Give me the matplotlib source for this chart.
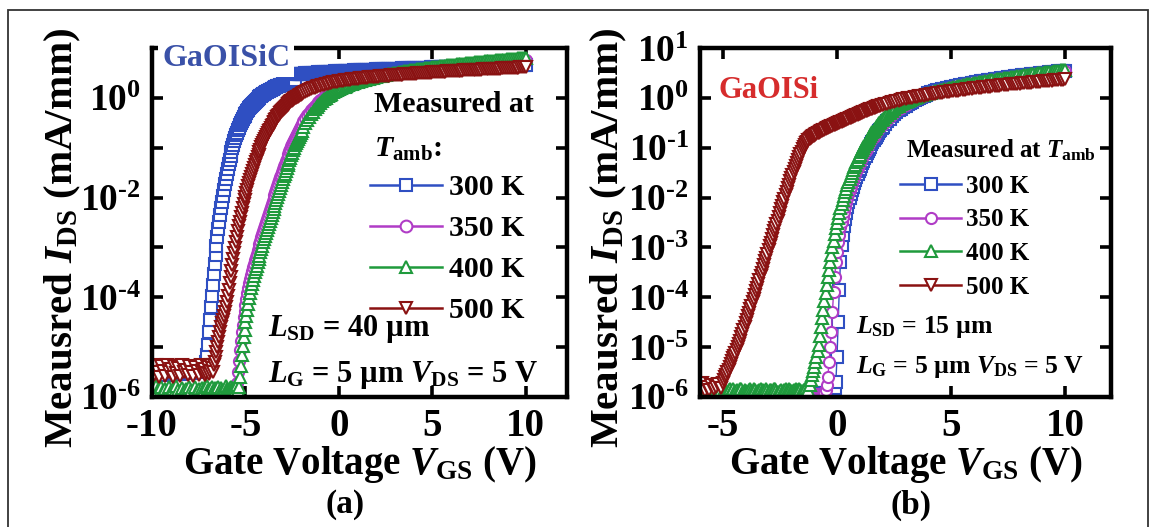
import numpy as np
import matplotlib
matplotlib.use("Agg")
import matplotlib.pyplot as plt
from matplotlib.lines import Line2D
from matplotlib.patches import Rectangle
from matplotlib.ticker import FixedLocator, NullLocator, FuncFormatter

plt.rcParams.update({
    "font.family": ["Liberation Serif", "DejaVu Serif"],
    "font.weight": "bold",
    "axes.labelweight": "bold",
    "mathtext.fontset": "custom",
    "mathtext.rm": "Liberation Serif:bold",
    "mathtext.it": "Liberation Serif:italic:bold",
    "mathtext.bf": "Liberation Serif:bold",
    "axes.unicode_minus": False,
})

# ---------------------------------------------------------------- data
# Gate-voltage sweeps (V): 0.1 V steps, 0.05 V through the turn-on region
vgs_a = np.round(np.concatenate([np.arange(-10.0, -7.25, 0.1),
                                 np.arange(-7.25, -1.99, 0.05),
                                 np.arange(-1.9, 10.05, 0.1)]), 2)
vgs_b = np.round(np.concatenate([np.arange(-6.0, -5.05, 0.1),
                                 np.arange(-5.0, 2.01, 0.05),
                                 np.arange(2.1, 10.05, 0.1)]), 2)

temps = ["300 K", "350 K", "400 K", "500 K"]

# (a) GaOISiC, L_SD = 40 um : log10 of I_DS in mA/mm
log_ids_a_300 = [
    -5.42, -5.5, -5.38, -5.47, -5.52, -5.4, -5.46, -5.55, -5.41, -5.48,
    -5.44, -5.51, -5.39, -5.47, -5.43, -5.53, -5.4, -5.49, -5.45, -5.5,
    -5.42, -5.47, -5.52, -5.4, -5.46, -5.5, -5.43, -5.48,
    # -7.25 .. -2.0
    -5.45, -5.42, -5.38, -5.3, -5.15, -4.95, -4.7, -4.45, -4.2, -3.97,
    -3.75, -3.54, -3.34, -3.15, -2.97, -2.8, -2.64, -2.49, -2.35, -2.21,
    -2.08, -1.96, -1.84, -1.73, -1.62, -1.52, -1.42, -1.33, -1.24, -1.16,
    -1.08, -1.01, -0.94, -0.87, -0.81, -0.75, -0.7, -0.65, -0.6, -0.55,
    -0.51, -0.47, -0.43, -0.39, -0.36, -0.33, -0.3, -0.27, -0.24, -0.21,
    -0.19, -0.16, -0.14, -0.12, -0.1, -0.08, -0.06, -0.04, -0.02, 0.0,
    0.01, 0.03, 0.04, 0.06, 0.07, 0.08, 0.1, 0.11, 0.12, 0.13,
    0.14, 0.15, 0.16, 0.17, 0.18, 0.19, 0.2, 0.21, 0.22, 0.23,
    0.23, 0.24, 0.25, 0.26, 0.26, 0.27, 0.28, 0.28, 0.29, 0.3,
    0.3, 0.31, 0.31, 0.32, 0.33, 0.33, 0.34, 0.34, 0.35, 0.47,
    0.47, 0.47, 0.48, 0.48, 0.48, 0.48,
    # -1.9 .. 10.0
    0.48, 0.49, 0.49, 0.49, 0.5, 0.5, 0.5, 0.5, 0.51, 0.51,
    0.51, 0.51, 0.52, 0.52, 0.52, 0.52, 0.52, 0.53, 0.53, 0.53,
    0.53, 0.53, 0.54, 0.54, 0.54, 0.54, 0.54, 0.55, 0.55, 0.55,
    0.55, 0.55, 0.55, 0.56, 0.56, 0.56, 0.56, 0.56, 0.56, 0.57,
    0.57, 0.57, 0.57, 0.57, 0.57, 0.57, 0.58, 0.58, 0.58, 0.58,
    0.58, 0.58, 0.58, 0.59, 0.59, 0.59, 0.59, 0.59, 0.59, 0.59,
    0.6, 0.6, 0.6, 0.6, 0.6, 0.6, 0.6, 0.6, 0.61, 0.61,
    0.61, 0.61, 0.61, 0.61, 0.61, 0.61, 0.62, 0.62, 0.62, 0.62,
    0.62, 0.62, 0.62, 0.62, 0.62, 0.63, 0.63, 0.63, 0.63, 0.63,
    0.63, 0.63, 0.63, 0.63, 0.64, 0.64, 0.64, 0.64, 0.64, 0.64,
    0.64, 0.64, 0.64, 0.65, 0.65, 0.65, 0.65, 0.65, 0.65, 0.65,
    0.65, 0.65, 0.66, 0.66, 0.66, 0.66, 0.66, 0.66, 0.66, 0.66,
]
log_ids_a_350 = [
    -5.9, -5.95, -5.88, -5.93, -5.9, -5.96, -5.89, -5.92, -5.94, -5.9,
    -5.93, -5.88, -5.95, -5.91, -5.9, -5.94, -5.89, -5.92, -5.95, -5.9,
    -5.91, -5.94, -5.89, -5.93, -5.9, -5.95, -5.92, -5.88,
    # -7.25 .. -2.0
    -5.94, -5.91, -5.9, -5.93, -5.95, -5.9, -5.92, -5.93, -5.89, -5.95,
    -5.92, -5.94, -5.9, -5.91, -5.94, -5.93, -5.89, -5.92, -5.9, -5.95,
    -5.91, -5.93, -5.88, -5.94, -5.9, -5.92, -5.95, -5.91, -5.89, -5.93,
    -5.9, -5.94, -5.92, -5.93, -5.9, -5.85, -5.72, -5.5, -5.28, -5.05,
    -4.87, -4.7, -4.55, -4.4, -4.27, -4.15, -4.03, -3.92, -3.82, -3.72,
    -3.63, -3.55, -3.47, -3.4, -3.33, -3.26, -3.19, -3.13, -3.06, -3.0,
    -2.93, -2.87, -2.8, -2.74, -2.67, -2.61, -2.55, -2.49, -2.42, -2.36,
    -2.3, -2.24, -2.18, -2.12, -2.06, -2.0, -1.94, -1.88, -1.82, -1.76,
    -1.7, -1.65, -1.59, -1.54, -1.48, -1.43, -1.37, -1.32, -1.27, -1.22,
    -1.17, -1.12, -1.07, -1.02, -0.97, -0.93, -0.88, -0.84, -0.8, -0.76,
    -0.72, -0.68, -0.64, -0.6, -0.56, -0.53,
    # -1.9 .. 10.0
    -0.47, -0.41, -0.35, -0.3, -0.25, -0.2, -0.16, -0.12, -0.08, -0.05,
    -0.02, 0.01, 0.04, 0.06, 0.09, 0.11, 0.13, 0.15, 0.17, 0.19,
    0.2, 0.22, 0.23, 0.25, 0.26, 0.27, 0.29, 0.3, 0.31, 0.32,
    0.33, 0.34, 0.35, 0.36, 0.37, 0.38, 0.39, 0.4, 0.41, 0.42,
    0.42, 0.43, 0.44, 0.45, 0.45, 0.46, 0.47, 0.47, 0.48, 0.49,
    0.49, 0.5, 0.51, 0.51, 0.52, 0.52, 0.53, 0.53, 0.54, 0.54,
    0.55, 0.55, 0.56, 0.56, 0.57, 0.57, 0.58, 0.58, 0.59, 0.59,
    0.6, 0.6, 0.6, 0.61, 0.61, 0.62, 0.62, 0.62, 0.63, 0.63,
    0.64, 0.64, 0.64, 0.65, 0.65, 0.65, 0.66, 0.66, 0.66, 0.67,
    0.67, 0.67, 0.68, 0.68, 0.68, 0.69, 0.69, 0.69, 0.7, 0.7,
    0.7, 0.7, 0.71, 0.71, 0.71, 0.72, 0.72, 0.72, 0.72, 0.73,
    0.73, 0.73, 0.73, 0.74, 0.74, 0.74, 0.74, 0.75, 0.75, 0.75,
]
log_ids_a_400 = [
    -5.82, -5.9, -5.78, -5.86, -5.93, -5.8, -5.88, -5.84, -5.95, -5.79,
    -5.87, -5.83, -5.91, -5.78, -5.85, -5.92, -5.81, -5.88, -5.84, -5.9,
    -5.8, -5.86, -5.93, -5.79, -5.87, -5.83, -5.9, -5.82,
    # -7.25 .. -2.0
    -5.88, -5.85, -5.8, -5.9, -5.78, -5.86, -5.91, -5.83, -5.84, -5.8,
    -5.87, -5.89, -5.82, -5.86, -5.93, -5.82, -5.8, -5.94, -5.88, -5.81,
    -5.85, -5.87, -5.9, -5.83, -5.78, -5.83, -5.86, -5.9, -5.82, -5.79,
    -5.85, -5.88, -5.81, -5.84, -5.87, -5.8, -5.76, -5.86, -5.8, -5.6,
    -5.38, -5.15, -4.97, -4.8, -4.65, -4.5, -4.37, -4.25, -4.13, -4.02,
    -3.92, -3.82, -3.73, -3.65, -3.57, -3.5, -3.43, -3.37, -3.3, -3.24,
    -3.17, -3.1, -3.03, -2.97, -2.9, -2.84, -2.78, -2.72, -2.65, -2.59,
    -2.53, -2.47, -2.4, -2.34, -2.28, -2.22, -2.16, -2.1, -2.04, -1.98,
    -1.92, -1.86, -1.8, -1.74, -1.68, -1.63, -1.57, -1.52, -1.46, -1.41,
    -1.35, -1.3, -1.25, -1.2, -1.15, -1.1, -1.05, -1.0, -0.95, -0.91,
    -0.86, -0.82, -0.78, -0.74, -0.7, -0.66,
    # -1.9 .. 10.0
    -0.58, -0.51, -0.45, -0.39, -0.33, -0.28, -0.23, -0.18, -0.14, -0.1,
    -0.06, -0.03, 0.0, 0.03, 0.06, 0.08, 0.11, 0.13, 0.15, 0.17,
    0.19, 0.21, 0.22, 0.24, 0.25, 0.27, 0.28, 0.29, 0.31, 0.32,
    0.33, 0.34, 0.35, 0.36, 0.37, 0.38, 0.39, 0.4, 0.41, 0.42,
    0.43, 0.44, 0.44, 0.45, 0.46, 0.47, 0.47, 0.48, 0.49, 0.5,
    0.5, 0.51, 0.52, 0.52, 0.53, 0.53, 0.54, 0.55, 0.55, 0.56,
    0.56, 0.57, 0.57, 0.58, 0.58, 0.59, 0.59, 0.6, 0.6, 0.61,
    0.61, 0.62, 0.62, 0.63, 0.63, 0.64, 0.64, 0.65, 0.65, 0.66,
    0.66, 0.66, 0.67, 0.67, 0.68, 0.68, 0.68, 0.69, 0.69, 0.7,
    0.7, 0.7, 0.71, 0.71, 0.72, 0.72, 0.72, 0.73, 0.73, 0.73,
    0.74, 0.74, 0.74, 0.75, 0.75, 0.75, 0.76, 0.76, 0.76, 0.77,
    0.77, 0.77, 0.78, 0.78, 0.78, 0.79, 0.79, 0.79, 0.8, 0.8,
]
log_ids_a_500 = [
    -5.4, -5.55, -5.35, -5.5, -5.6, -5.38, -5.47, -5.58, -5.36, -5.5,
    -5.44, -5.6, -5.37, -5.52, -5.42, -5.57, -5.35, -5.49, -5.45, -5.56,
    -5.38, -5.5, -5.58, -5.4, -5.47, -5.55, -5.36, -5.5,
    # -7.25 .. -2.0
    -5.46, -5.43, -5.55, -5.52, -5.38, -5.4, -5.53, -5.48, -5.36, -5.42,
    -5.5, -5.35, -5.3, -5.2, -5.1, -5.0, -4.9, -4.8, -4.7, -4.6,
    -4.52, -4.45, -4.38, -4.3, -4.2, -4.1, -3.97, -3.85, -3.72, -3.6,
    -3.47, -3.35, -3.23, -3.12, -3.01, -2.9, -2.79, -2.68, -2.58, -2.48,
    -2.39, -2.3, -2.21, -2.13, -2.05, -1.98, -1.91, -1.84, -1.77, -1.71,
    -1.64, -1.58, -1.52, -1.46, -1.4, -1.35, -1.29, -1.24, -1.19, -1.14,
    -1.09, -1.04, -0.99, -0.95, -0.91, -0.87, -0.83, -0.79, -0.75, -0.71,
    -0.67, -0.64, -0.6, -0.57, -0.54, -0.51, -0.48, -0.45, -0.42, -0.39,
    -0.36, -0.34, -0.31, -0.29, -0.26, -0.24, -0.22, -0.2, -0.18, -0.16,
    -0.14, -0.12, -0.1, -0.09, -0.07, -0.06, -0.04, -0.03, -0.01, 0.0,
    0.01, 0.02, 0.03, 0.05, 0.06, 0.07,
    # -1.9 .. 10.0
    0.09, 0.11, 0.13, 0.15, 0.17, 0.19, 0.2, 0.22, 0.23, 0.24,
    0.25, 0.26, 0.27, 0.28, 0.29, 0.3, 0.31, 0.32, 0.32, 0.33,
    0.34, 0.34, 0.35, 0.35, 0.36, 0.36, 0.37, 0.37, 0.38, 0.38,
    0.39, 0.39, 0.39, 0.4, 0.4, 0.41, 0.41, 0.41, 0.42, 0.42,
    0.42, 0.43, 0.43, 0.43, 0.44, 0.44, 0.44, 0.45, 0.45, 0.45,
    0.46, 0.46, 0.46, 0.46, 0.47, 0.47, 0.47, 0.48, 0.48, 0.48,
    0.48, 0.49, 0.49, 0.49, 0.49, 0.5, 0.5, 0.5, 0.5, 0.51,
    0.51, 0.51, 0.51, 0.52, 0.52, 0.52, 0.52, 0.53, 0.53, 0.53,
    0.53, 0.53, 0.54, 0.54, 0.54, 0.54, 0.55, 0.55, 0.55, 0.55,
    0.55, 0.56, 0.56, 0.56, 0.56, 0.56, 0.57, 0.57, 0.57, 0.57,
    0.57, 0.58, 0.58, 0.58, 0.58, 0.58, 0.59, 0.59, 0.59, 0.59,
    0.59, 0.6, 0.6, 0.6, 0.6, 0.6, 0.61, 0.61, 0.61, 0.61,
]

# (b) GaOISi, L_SD = 15 um : log10 of I_DS in mA/mm
log_ids_b_300 = [
    -5.93, -5.95, -5.92, -5.94, -5.96, -5.93, -5.95, -5.92, -5.94, -5.93,
    # -5.0 .. 2.0
    -5.95, -5.92, -5.94, -5.93, -5.96, -5.92, -5.94, -5.95, -5.93, -5.94,
    -5.92, -5.95, -5.93, -5.94, -5.92, -5.96, -5.93, -5.94, -5.95, -5.92,
    -5.94, -5.93, -5.95, -5.92, -5.94, -5.96, -5.93, -5.92, -5.95, -5.94,
    -5.93, -5.95, -5.92, -5.94, -5.93, -5.96, -5.94, -5.92, -5.95, -5.93,
    -5.94, -5.92, -5.95, -5.93, -5.94, -5.96, -5.93, -5.95, -5.92, -5.94,
    -5.93, -5.95, -5.92, -5.94, -5.96, -5.93, -5.95, -5.92, -5.94, -5.93,
    -5.95, -5.92, -5.94, -5.93, -5.96, -5.92, -5.94, -5.95, -5.93, -5.94,
    -5.92, -5.95, -5.93, -5.94, -5.92, -5.96, -5.93, -5.94, -5.95, -5.92,
    -5.94, -5.93, -5.95, -5.92, -5.94, -5.96, -5.93, -5.92, -5.95, -5.94,
    -5.93, -5.95, -5.92, -5.94, -5.93, -5.96, -5.92, -5.9, -5.82, -5.7,
    -5.2, -4.5, -3.85, -3.3, -2.95, -2.75, -2.58, -2.43, -2.3, -2.18,
    -2.08, -2.0, -1.92, -1.85, -1.78, -1.71, -1.65, -1.59, -1.53, -1.47,
    -1.42, -1.36, -1.31, -1.26, -1.21, -1.16, -1.11, -1.07, -1.02, -0.98,
    -0.93, -0.89, -0.85, -0.81, -0.78, -0.74, -0.71, -0.67, -0.64, -0.61,
    -0.58,
    # 2.1 .. 10.0
    -0.52, -0.47, -0.42, -0.37, -0.33, -0.29, -0.25, -0.22, -0.19, -0.16,
    -0.13, -0.1, -0.08, -0.05, -0.03, -0.01, 0.01, 0.03, 0.05, 0.1,
    0.11, 0.12, 0.14, 0.15, 0.16, 0.17, 0.18, 0.19, 0.2, 0.21,
    0.22, 0.23, 0.24, 0.25, 0.26, 0.27, 0.28, 0.28, 0.29, 0.3,
    0.31, 0.32, 0.33, 0.33, 0.34, 0.35, 0.36, 0.36, 0.37, 0.38,
    0.38, 0.39, 0.4, 0.4, 0.41, 0.42, 0.42, 0.43, 0.43, 0.44,
    0.45, 0.45, 0.46, 0.46, 0.47, 0.47, 0.48, 0.48, 0.49, 0.49,
    0.5, 0.5, 0.51, 0.51, 0.52, 0.52, 0.53, 0.53, 0.54, 0.54,
]
log_ids_b_350 = [
    -5.95, -5.93, -5.96, -5.94, -5.95, -5.93, -5.96, -5.94, -5.95, -5.93,
    # -5.0 .. 2.0
    -5.94, -5.96, -5.93, -5.95, -5.94, -5.96, -5.93, -5.95, -5.94, -5.93,
    -5.96, -5.94, -5.95, -5.93, -5.94, -5.96, -5.95, -5.93, -5.94, -5.96,
    -5.93, -5.95, -5.94, -5.96, -5.93, -5.95, -5.94, -5.93, -5.96, -5.95,
    -5.94, -5.93, -5.96, -5.95, -5.94, -5.93, -5.96, -5.94, -5.95, -5.93,
    -5.96, -5.94, -5.95, -5.93, -5.94, -5.95, -5.93, -5.96, -5.94, -5.95,
    -5.93, -5.96, -5.94, -5.95, -5.93, -5.94, -5.96, -5.93, -5.95, -5.94,
    -5.95, -5.93, -5.94, -5.96, -5.95, -5.93, -5.94, -5.96, -5.93, -5.95,
    -5.94, -5.96, -5.93, -5.95, -5.94, -5.93, -5.96, -5.94, -5.95, -5.93,
    -5.96, -5.94, -5.95, -5.93, -5.94, -5.95, -5.93, -5.96, -5.94, -5.9,
    -5.85, -5.75, -5.6, -5.3, -5.0, -4.7, -4.3, -3.9, -3.6, -3.3,
    -3.1, -2.9, -2.75, -2.6, -2.48, -2.38, -2.28, -2.18, -2.09, -2.0,
    -1.92, -1.85, -1.78, -1.71, -1.64, -1.58, -1.52, -1.46, -1.4, -1.35,
    -1.3, -1.25, -1.2, -1.15, -1.1, -1.06, -1.02, -0.97, -0.93, -0.89,
    -0.85, -0.81, -0.78, -0.74, -0.71, -0.67, -0.64, -0.61, -0.58, -0.55,
    -0.52,
    # 2.1 .. 10.0
    -0.49, -0.44, -0.39, -0.35, -0.31, -0.27, -0.23, -0.2, -0.17, -0.14,
    -0.11, -0.09, -0.06, -0.04, -0.02, 0.0, 0.02, 0.04, 0.05, 0.09,
    0.1, 0.11, 0.13, 0.14, 0.15, 0.16, 0.17, 0.18, 0.19, 0.2,
    0.21, 0.22, 0.23, 0.24, 0.25, 0.26, 0.27, 0.27, 0.28, 0.29,
    0.3, 0.31, 0.32, 0.32, 0.33, 0.34, 0.35, 0.35, 0.36, 0.37,
    0.37, 0.38, 0.39, 0.39, 0.4, 0.41, 0.41, 0.42, 0.42, 0.43,
    0.44, 0.44, 0.45, 0.45, 0.46, 0.46, 0.47, 0.47, 0.48, 0.48,
    0.49, 0.49, 0.5, 0.5, 0.51, 0.51, 0.52, 0.52, 0.53, 0.53,
]
log_ids_b_400 = [
    -5.86, -5.92, -5.83, -5.9, -5.87, -5.94, -5.84, -5.89, -5.91, -5.85,
    # -5.0 .. 2.0
    -5.9, -5.87, -5.86, -5.92, -5.93, -5.85, -5.84, -5.9, -5.88, -5.83,
    -5.91, -5.87, -5.85, -5.9, -5.89, -5.84, -5.83, -5.92, -5.9, -5.86,
    -5.87, -5.9, -5.92, -5.85, -5.84, -5.88, -5.89, -5.83, -5.86, -5.91,
    -5.93, -5.88, -5.85, -5.84, -5.9, -5.86, -5.88, -5.92, -5.84, -5.87,
    -5.91, -5.85, -5.86, -5.9, -5.89, -5.84, -5.83, -5.88, -5.9, -5.92,
    -5.87, -5.85, -5.92, -5.89, -5.85, -5.83, -5.88, -5.9, -5.84, -5.86,
    -5.9, -5.87, -5.86, -5.91, -5.83, -5.85, -5.89, -5.84, -5.85, -5.88,
    -5.91, -5.86, -5.84, -5.82, -5.88, -5.86, -5.75, -5.66, -5.55, -5.48,
    -5.4, -5.3, -5.2, -5.08, -4.95, -4.78, -4.6, -4.42, -4.25, -4.08,
    -3.92, -3.76, -3.6, -3.45, -3.3, -3.15, -3.0, -2.87, -2.74, -2.62,
    -2.5, -2.4, -2.3, -2.21, -2.12, -2.04, -1.96, -1.89, -1.82, -1.75,
    -1.69, -1.63, -1.57, -1.51, -1.45, -1.39, -1.34, -1.29, -1.24, -1.19,
    -1.14, -1.09, -1.05, -1.0, -0.96, -0.92, -0.88, -0.84, -0.8, -0.76,
    -0.73, -0.69, -0.66, -0.63, -0.6, -0.57, -0.54, -0.51, -0.48, -0.45,
    -0.43,
    # 2.1 .. 10.0
    -0.38, -0.34, -0.3, -0.26, -0.22, -0.19, -0.16, -0.13, -0.1, -0.08,
    -0.06, -0.04, -0.02, 0.0, 0.02, 0.03, 0.05, 0.06, 0.08, 0.09,
    0.1, 0.12, 0.13, 0.14, 0.15, 0.16, 0.17, 0.18, 0.19, 0.2,
    0.21, 0.22, 0.23, 0.24, 0.25, 0.26, 0.27, 0.27, 0.28, 0.29,
    0.3, 0.31, 0.32, 0.32, 0.33, 0.34, 0.35, 0.35, 0.36, 0.37,
    0.38, 0.38, 0.39, 0.4, 0.4, 0.41, 0.42, 0.42, 0.43, 0.44,
    0.44, 0.45, 0.46, 0.46, 0.47, 0.48, 0.48, 0.49, 0.49, 0.5,
    0.51, 0.51, 0.52, 0.52, 0.53, 0.54, 0.54, 0.55, 0.55, 0.56,
]
log_ids_b_500 = [
    -5.85, -5.72, -5.88, -5.8, -5.86, -5.75, -5.84, -5.8, -5.74, -5.82,
    # -5.0 .. 2.0
    -5.72, -5.66, -5.6, -5.55, -5.5, -5.45, -5.4, -5.34, -5.28, -5.22,
    -5.17, -5.11, -5.05, -4.99, -4.93, -4.87, -4.8, -4.73, -4.66, -4.59,
    -4.52, -4.45, -4.38, -4.31, -4.24, -4.17, -4.1, -4.03, -3.96, -3.88,
    -3.81, -3.73, -3.66, -3.58, -3.51, -3.43, -3.36, -3.28, -3.21, -3.13,
    -3.06, -2.98, -2.91, -2.83, -2.76, -2.68, -2.61, -2.53, -2.46, -2.38,
    -2.31, -2.23, -2.16, -2.09, -2.02, -1.95, -1.88, -1.81, -1.74, -1.67,
    -1.61, -1.54, -1.48, -1.42, -1.36, -1.3, -1.24, -1.18, -1.13, -1.08,
    -1.03, -0.99, -0.95, -0.91, -0.88, -0.85, -0.82, -0.8, -0.79, -0.77,
    -0.76, -0.74, -0.73, -0.71, -0.7, -0.68, -0.67, -0.66, -0.65, -0.64,
    -0.63, -0.61, -0.6, -0.59, -0.58, -0.57, -0.56, -0.55, -0.54, -0.53,
    -0.52, -0.51, -0.5, -0.49, -0.48, -0.47, -0.46, -0.45, -0.44, -0.43,
    -0.42, -0.41, -0.4, -0.39, -0.38, -0.37, -0.36, -0.35, -0.34, -0.33,
    -0.32, -0.31, -0.3, -0.29, -0.28, -0.27, -0.26, -0.25, -0.24, -0.23,
    -0.22, -0.22, -0.21, -0.2, -0.19, -0.18, -0.17, -0.17, -0.16, -0.15,
    -0.14,
    # 2.1 .. 10.0
    -0.13, -0.12, -0.11, -0.09, -0.08, -0.07, -0.06, -0.04, -0.03, -0.02,
    -0.01, 0.0, 0.0, 0.01, 0.02, 0.03, 0.04, 0.04, 0.05, 0.06,
    0.07, 0.07, 0.08, 0.09, 0.09, 0.1, 0.11, 0.11, 0.12, 0.13,
    0.13, 0.14, 0.14, 0.15, 0.16, 0.16, 0.17, 0.17, 0.18, 0.19,
    0.19, 0.2, 0.2, 0.21, 0.21, 0.22, 0.22, 0.23, 0.23, 0.24,
    0.24, 0.25, 0.25, 0.26, 0.26, 0.27, 0.27, 0.27, 0.28, 0.28,
    0.29, 0.29, 0.3, 0.3, 0.3, 0.31, 0.31, 0.32, 0.32, 0.33,
    0.33, 0.33, 0.34, 0.34, 0.35, 0.35, 0.35, 0.36, 0.36, 0.37,
]

series_a = [log_ids_a_300, log_ids_a_350, log_ids_a_400, log_ids_a_500]
series_b = [log_ids_b_300, log_ids_b_350, log_ids_b_400, log_ids_b_500]

# ---------------------------------------------------------------- style
colors = ["#2f4fc2", "#b03cc6", "#1f9a3c", "#8a1212"]
markers = ["s", "o", "^", "v"]

W, H = 1156, 527
fig = plt.figure(figsize=(W / 100, H / 100), dpi=100)
fig.patch.set_facecolor("white")

BOX_A = (152, 48, 567, 397)
BOX_B = (700, 48, 1111, 397)


def axes_px(box):
    left, top, right, bottom = box
    return fig.add_axes([left / W, 1 - bottom / H, (right - left) / W, (bottom - top) / H])


ax_a = axes_px(BOX_A)
ax_b = axes_px(BOX_B)


def style_axes(ax, xlim, xticks, label_every):
    ax.set_yscale("log")
    ax.set_ylim(1e-6, 1e1)
    ax.set_xlim(*xlim)
    ax.xaxis.set_major_locator(FixedLocator(xticks))
    ax.xaxis.set_minor_locator(NullLocator())
    ax.yaxis.set_major_locator(FixedLocator([10.0 ** k for k in range(-6, 2)]))
    ax.yaxis.set_minor_locator(NullLocator())

    def fmt(v, pos):
        k = int(round(np.log10(v)))
        if k % label_every:
            return ""
        if k < 0:
            return r"$10^{\text{-}%d}$" % (-k)
        return r"$10^{%d}$" % k

    ax.yaxis.set_major_formatter(FuncFormatter(fmt))
    ax.xaxis.set_major_formatter(FuncFormatter(lambda v, p: "%d" % v))
    ax.tick_params(which="both", direction="in", length=8, width=2.6,
                   top=True, right=True)
    ax.tick_params(axis="y", labelsize=27, pad=8)
    ax.tick_params(axis="x", labelsize=28, pad=8)
    for sp in ax.spines.values():
        sp.set_linewidth(3.2)
    ax.set_xlabel(r"Gate Voltage $V_{\mathrm{GS}}$ (V)", fontsize=28,
                  fontweight="bold")
    ax.set_ylabel(r"Meausred $I_{\mathrm{DS}}$ (mA/mm)", fontsize=29.5,
                  fontweight="bold")
    ax.yaxis.label.set_verticalalignment("center")


style_axes(ax_a, (-10, 12.2), [-10, -5, 0, 5, 10], 2)
style_axes(ax_b, (-6, 12), [-5, 0, 5, 10], 1)

ax_a.xaxis.set_label_coords(0.5, -0.135)
ax_b.xaxis.set_label_coords(0.5, -0.135)
ax_a.yaxis.set_label_coords(-0.215, 0.455)
ax_b.yaxis.set_label_coords(-0.222, 0.455)


def draw_curves(ax, v, series):
    for logs, c, m in zip(series, colors, markers):
        ax.plot(v, 10.0 ** np.asarray(logs), color=c, lw=1.0, marker=m,
                ms=8, mfc="white", mec=c, mew=1.5, zorder=2)


draw_curves(ax_a, vgs_a, series_a)
draw_curves(ax_b, vgs_b, series_b)


def legend_handles(ms):
    return [Line2D([], [], color=c, lw=1.8, marker=m, ms=ms, mfc="white",
                   mec=c, mew=1.5) for c, m in zip(colors, markers)]


def frac(box, x, y):
    left, top, right, bottom = box
    return (x - left) / (right - left), (bottom - y) / (bottom - top)


def put(ax, box, x, y, s, **kw):
    fx, fy = frac(box, x, y)
    return ax.text(fx, fy, s, transform=ax.transAxes, ha="left", va="center", **kw)


# ---------------------------------------------------------------- panel (a) text
put(ax_a, BOX_A, 162, 58, "GaOISiC", color="#3a51a8", fontsize=23, zorder=6,
    bbox=dict(facecolor="white", edgecolor="none", pad=3))
put(ax_a, BOX_A, 374, 105, "Measured at", fontsize=21.5)
put(ax_a, BOX_A, 374, 149, r"$T_{\mathrm{amb}}$:", fontsize=21.5)
ax_a.legend(legend_handles(8.5), temps, loc="upper left",
            bbox_to_anchor=frac(BOX_A, 370, 174), frameon=False,
            fontsize=21.5, handlelength=2.4, handletextpad=0.25,
            labelspacing=0.47, borderpad=0, borderaxespad=0)
put(ax_a, BOX_A, 268, 329, r"$L_{\mathrm{SD}}$ = 40 µm", fontsize=22)
put(ax_a, BOX_A, 268, 375, r"$L_{\mathrm{G}}$ = 5 µm $V_{\mathrm{DS}}$ = 5 V",
    fontsize=22)

# ---------------------------------------------------------------- panel (b) text
put(ax_b, BOX_B, 719, 91, "GaOISi", color="#d62c2c", fontsize=22)
put(ax_b, BOX_B, 906, 150, r"Measured at $T_{\mathrm{amb}}$", fontsize=18)
ax_b.legend(legend_handles(8), temps, loc="upper left",
            bbox_to_anchor=frac(BOX_B, 900, 175), frameon=False,
            fontsize=18, handlelength=2.45, handletextpad=0.2,
            labelspacing=0.42, borderpad=0, borderaxespad=0)
put(ax_b, BOX_B, 856, 327, r"$L_{\mathrm{SD}}$ = 15 µm", fontsize=18.5)
put(ax_b, BOX_B, 856, 367, r"$L_{\mathrm{G}}$ = 5 µm $V_{\mathrm{DS}}$ = 5 V",
    fontsize=18.5)

# ---------------------------------------------------------------- captions and frame
fig.text(345 / W, 1 - 505 / H, "(a)", fontsize=24, ha="center", va="center")
fig.text(911 / W, 1 - 505 / H, "(b)", fontsize=24, ha="center", va="center")
fig.patches.append(Rectangle((8 / W, -0.05), (1148 - 8) / W, 1.05 - 10 / H,
                             transform=fig.transFigure, fill=False,
                             edgecolor="#333333", lw=1.3))

fig.savefig("out.png", dpi=100, facecolor="white")
